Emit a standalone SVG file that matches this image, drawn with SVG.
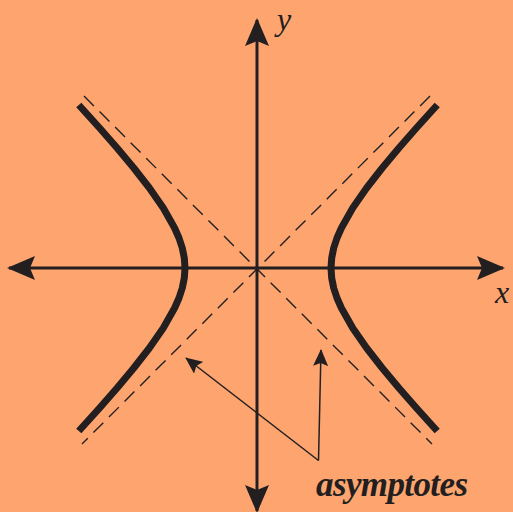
<svg xmlns="http://www.w3.org/2000/svg" width="513" height="512" viewBox="0 0 513 512">
<style>
.axis{stroke:#231f20;stroke-width:3;fill:none}
.curve{stroke:#231f20;stroke-width:7;fill:none;stroke-linejoin:round}
.asym{stroke:#231f20;stroke-width:1.4;fill:none;stroke-dasharray:14 8}
.ann{stroke:#231f20;stroke-width:1.5;fill:none}
.head{fill:#231f20}
.lbl{font-family:"Liberation Serif",serif;font-style:italic;fill:#231f20}
</style>
<defs>
<marker id="axhead" viewBox="0 0 28 24" refX="26" refY="12" markerWidth="28" markerHeight="24" markerUnits="userSpaceOnUse" orient="auto">
<path d="M28 12 L0 0 L5 12 L0 24 Z" class="head"/>
</marker>
<marker id="annhead" viewBox="0 0 17 15" refX="16" refY="7.5" markerWidth="17" markerHeight="15" markerUnits="userSpaceOnUse" orient="auto">
<path d="M17 7.5 L0 0 L3 7.5 L0 15 Z" class="head"/>
</marker>
</defs>
<rect width="513" height="512" fill="#fea56f"/>
<g id="asymptotes-lines">
<line class="asym" x1="84" y1="96" x2="432" y2="444"/>
<line class="asym" x1="430" y1="96" x2="82" y2="444"/>
</g>
<g id="hyperbola-left">
<polyline class="curve" points="78.8,105 99.6,128 117.1,148 133.8,168 149.4,188 163.3,208 174.6,228 179,238 182.3,248 184.3,258 185,268 184.3,278 182.3,288 179,298 174.6,308 163.3,328 149.4,348 133.8,368 117.1,388 99.6,408 78.8,431"/>
</g>
<g id="hyperbola-right">
<polyline class="curve" points="437.2,105 416.4,128 398.9,148 382.2,168 366.6,188 352.7,208 341.4,228 337,238 333.7,248 331.7,258 331,268 331.7,278 333.7,288 337,298 341.4,308 352.7,328 366.6,348 382.2,368 398.9,388 416.4,408 437.2,431"/>
</g>
<g id="connectors">
<line class="axis" x1="257" y1="268" x2="257" y2="20" marker-end="url(#axhead)"/>
<line class="axis" x1="257" y1="268" x2="257" y2="511" marker-end="url(#axhead)"/>
<line class="axis" x1="257" y1="268" x2="9" y2="268" marker-end="url(#axhead)"/>
<line class="axis" x1="257" y1="268" x2="503" y2="268" marker-end="url(#axhead)"/>
<line class="ann" x1="318.5" y1="460.5" x2="186" y2="358" marker-end="url(#annhead)"/>
<line class="ann" x1="318.5" y1="460.5" x2="321" y2="350" marker-end="url(#annhead)"/>
</g>
<g id="label-y"><text class="lbl" x="277" y="30" font-size="32">y</text></g>
<g id="label-x"><text class="lbl" x="495" y="303" font-size="32">x</text></g>
<g id="label-asymptotes"><text class="lbl" x="316" y="496" font-size="35" font-weight="bold" textLength="152">asymptotes</text></g>
</svg>
